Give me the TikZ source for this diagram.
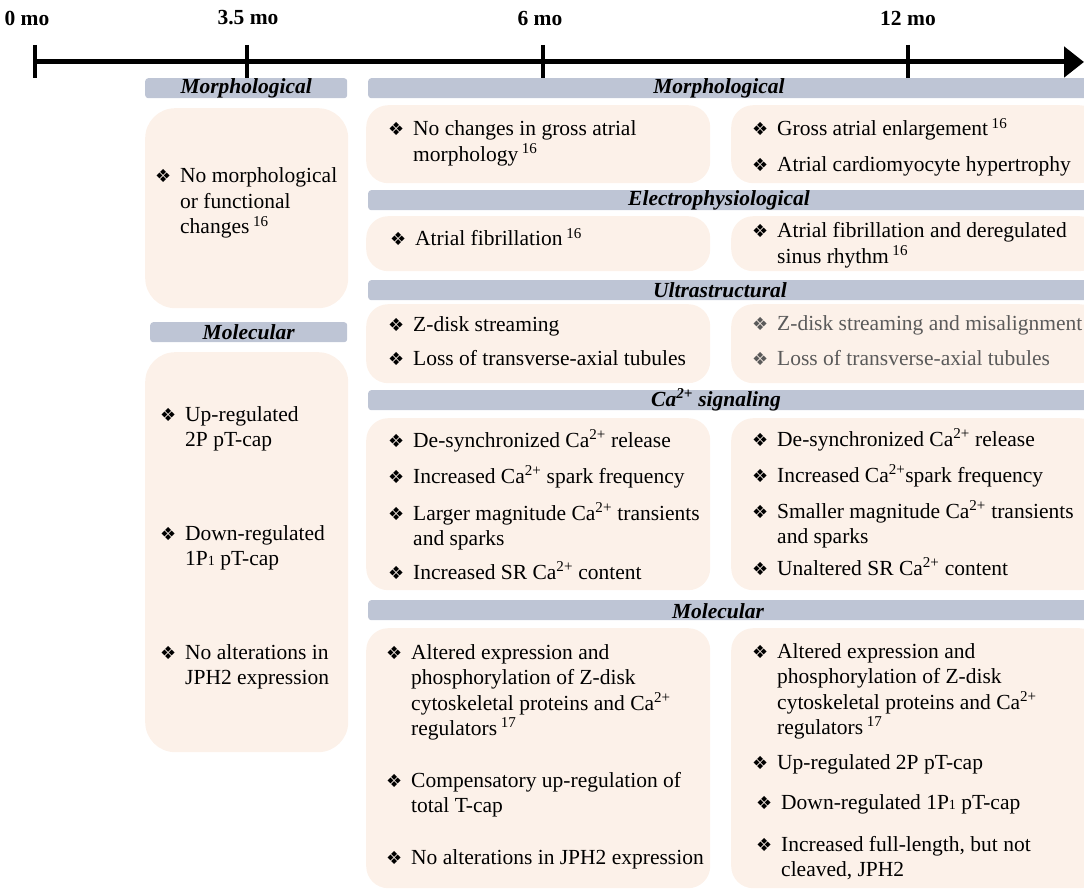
\documentclass[tikz,border=0pt]{standalone}
\usepackage{fontspec}
\setmainfont{Liberation Serif}
\newfontfamily\dejavu{DejaVu Sans}
\usetikzlibrary{arrows.meta}
\definecolor{barc}{HTML}{BEC5D5}
\definecolor{boxc}{HTML}{FCF1E9}
\definecolor{gtxt}{HTML}{5A5A5A}
\newcommand{\fsz}{\fontsize{21.5}{25.5}\selectfont}
\newcommand{\bul}{\makebox[25pt][l]{\dejavu\fontsize{18}{18}\selectfont\char"2756}}
\newcommand{\itm}[1]{\bul\begin{tabular}[t]{@{}l@{}}#1\end{tabular}}
\newcommand{\ca}{Ca\textsuperscript{2+}}
\newcommand{\cit}[1]{\,\textsuperscript{#1}}
\newcommand{\pone}{1P{\fontsize{14}{14}\selectfont 1}}
\tikzset{
  axis/.style={line width=5pt, -{Triangle[length=20pt,width=30pt]}},
  tick/.style={line width=4pt},
  mo/.style={font=\fsz\bfseries, inner sep=0pt},
  bar/.style={fill=barc, rounded corners=3pt, inner sep=0pt, minimum height=20pt, anchor=north west},
  hdr/.style={font=\fsz\bfseries\itshape, inner sep=0pt},
  box/.style={fill=boxc, rounded corners=22pt, inner sep=0pt, anchor=north west},
  itm/.style={anchor=base west, inner sep=0pt, align=left},
}

\begin{document}
\begin{tikzpicture}[x=1pt, y=-1pt, font=\fsz]
  \useasboundingbox (0,0) rectangle (1084,890);
  \clip (0,0) rectangle (1084,890);

  \coordinate (tend) at (1084,62);
  \foreach \x/\lx/\t [count=\i] in {35/27/0 mo, 247/248/3.5 mo, 543/540/6 mo, 908/908/12 mo} {
    \coordinate (tk\i) at (\x,62);
    \draw[tick] ([yshift=17pt]tk\i) -- ([yshift=-16pt]tk\i);
    \node[mo] (mo\i) at (\lx,18) {\t};
  }
  \draw[axis] (tk1) -- (tend);

  \node[bar, minimum width=202pt, hdr] (lmorph) at (145,78) {Morphological};
  \node[box, rounded corners=30pt, minimum width=203pt, minimum height=200pt] (lb1) at (145,108) {};
  \node[bar, minimum width=197pt, hdr] (lmol) at (150,322) {Molecular};
  \node[box, rounded corners=30pt, minimum width=203pt, minimum height=400pt] (lb2) at (145,352) {};

  \foreach \y/\nm in {78/morph, 190/elec, 280/ultra, 390/casig, 600/mol}
    \node[bar, minimum width=730pt] (\nm) at (368,\y) {};
  \node[hdr] (morphl) at (719,88) {Morphological};
  \node[hdr] (elecl) at (719,200) {Electrophysiological};
  \node[hdr] (ultral) at (720,290) {Ultrastructural};
  \node[hdr] (casigl) at (716,400) {\ca{} signaling};
  \node[hdr] (moll) at (718,611) {Molecular};

  \foreach \y/\h [count=\i] in {105/78, 216/55, 304/79, 418/172, 628/260} {
    \node[box, minimum width=344pt, minimum height=\h pt] (a\i) at (366,\y) {};
    \node[box, minimum width=370pt, minimum height=\h pt] (b\i) at (731,\y) {};
  }

  \node[itm] (l1) at (155,183) {\itm{No morphological\\or functional\\changes\cit{16}}};
  \node[itm] (l2) at (160,421) {\itm{Up-regulated\\2P pT-cap}};
  \node[itm] (l3) at (160,540) {\itm{Down-regulated\\\pone{} pT-cap}};
  \node[itm] (l4) at (160,659) {\itm{No alterations in\\JPH2 expression}};

  \node[itm] (a1i) at (388,136) {\itm{No changes in gross atrial\\morphology\cit{16}}};
  \node[itm] (b1i) at (752,136) {\itm{Gross atrial enlargement\cit{16}}};
  \node[itm] (b1j) at (752,172) {\itm{Atrial cardiomyocyte hypertrophy}};

  \node[itm] (a2i) at (390,246) {\itm{Atrial fibrillation\cit{16}}};
  \node[itm] (b2i) at (752,238) {\itm{Atrial fibrillation and deregulated\\sinus rhythm\cit{16}}};

  \node[itm] (a3i) at (388,332) {\itm{Z-disk streaming}};
  \node[itm] (a3j) at (388,366) {\itm{Loss of transverse-axial tubules}};
  \node[itm, text=gtxt] (b3i) at (752,331) {\itm{Z-disk streaming and misalignment}};
  \node[itm, text=gtxt] (b3j) at (752,366) {\itm{Loss of transverse-axial tubules}};

  \node[itm] (a4i) at (388,447) {\itm{De-synchronized \ca{} release}};
  \node[itm] (a4j) at (388,483) {\itm{Increased \ca{} spark frequency}};
  \node[itm] (a4k) at (388,520) {\itm{Larger magnitude \ca{} transients\\and sparks}};
  \node[itm] (a4l) at (388,579) {\itm{Increased SR \ca{} content}};
  \node[itm] (b4i) at (752,446) {\itm{De-synchronized \ca{} release}};
  \node[itm] (b4j) at (752,482) {\itm{Increased \ca{}spark frequency}};
  \node[itm] (b4k) at (752,518) {\itm{Smaller magnitude \ca{} transients\\and sparks}};
  \node[itm] (b4l) at (752,575) {\itm{Unaltered SR \ca{} content}};

  \node[itm] (a5i) at (386,659) {\itm{Altered expression and\\phosphorylation of Z-disk\\cytoskeletal proteins and \ca\\regulators\cit{17}}};
  \node[itm] (a5j) at (386,787) {\itm{Compensatory up-regulation of\\total T-cap}};
  \node[itm] (a5k) at (386,864) {\itm{No alterations in JPH2 expression}};
  \node[itm] (b5i) at (752,658) {\itm{Altered expression and\\phosphorylation of Z-disk\\cytoskeletal proteins and \ca\\regulators\cit{17}}};
  \node[itm] (b5j) at (752,769) {\itm{Up-regulated 2P pT-cap}};
  \node[itm] (b5k) at (756,809) {\itm{Down-regulated \pone{} pT-cap}};
  \node[itm] (b5l) at (756,851) {\itm{Increased full-length, but not\\cleaved, JPH2}};
\end{tikzpicture}
\end{document}
